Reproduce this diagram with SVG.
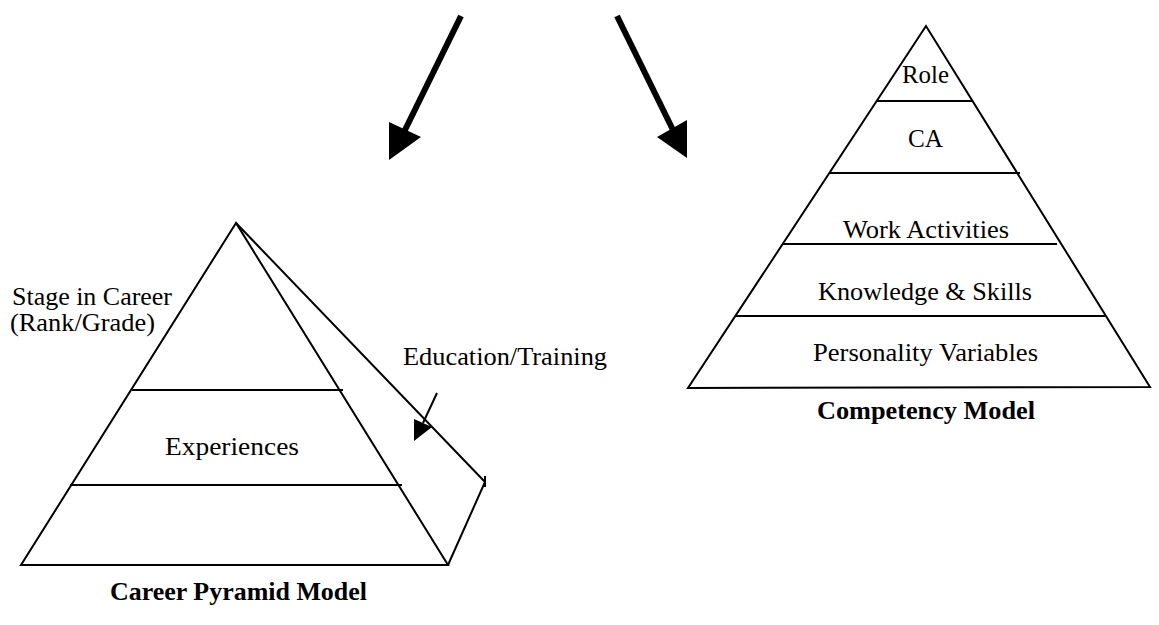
<svg xmlns="http://www.w3.org/2000/svg" width="1159" height="625" viewBox="0 0 1159 625">
<style>
.ln{stroke:#000;stroke-width:2;fill:none;stroke-linejoin:miter}
.sh{stroke:#000;stroke-width:6;fill:none}
.hd{fill:#000;stroke:none}
.t{font-family:'Liberation Serif',Tinos,'Times New Roman',Times,serif;font-size:25px;fill:#000}
.b{font-family:'Liberation Serif',Tinos,'Times New Roman',Times,serif;font-size:25px;font-weight:bold;fill:#000}
</style>
<rect width="1159" height="625" fill="#fff"/>
<g id="connectors">
<line class="sh" x1="461" y1="16" x2="404" y2="132"/>
<polygon class="hd" points="389,122 421,137 389,160"/>
<line class="sh" x1="617" y1="16" x2="673" y2="130"/>
<polygon class="hd" points="687,120 657,137 687,158"/>
<line class="ln" x1="437" y1="393" x2="423" y2="423"/>
<polygon class="hd" points="414,419 432,427 414,441"/>
</g>
<g id="career-pyramid">
<polygon class="ln" points="236,223 21,565 448,565"/>
<polyline class="ln" points="236,223 485,482 448,565"/>
<line class="ln" x1="485" y1="476" x2="485" y2="487"/>
<line class="ln" x1="132" y1="390" x2="343" y2="390"/>
<line class="ln" x1="70" y1="485" x2="402" y2="485"/>
<text class="t" x="165" y="455" textLength="134" lengthAdjust="spacingAndGlyphs">Experiences</text>
</g>
<g id="stage-label">
<text class="t" x="12" y="305" textLength="160" lengthAdjust="spacingAndGlyphs">Stage in Career</text>
<text class="t" x="10" y="331" textLength="145" lengthAdjust="spacingAndGlyphs">(Rank/Grade)</text>
</g>
<g id="education-label">
<text class="t" x="403" y="365" textLength="204" lengthAdjust="spacingAndGlyphs">Education/Training</text>
</g>
<g id="career-title">
<text class="b" x="110" y="600" textLength="257" lengthAdjust="spacingAndGlyphs">Career Pyramid Model</text>
</g>
<g id="competency-pyramid">
<polygon class="ln" points="926,26 688,388 1150,387"/>
<line class="ln" x1="877" y1="101" x2="972" y2="101"/>
<line class="ln" x1="829" y1="173" x2="1020" y2="173"/>
<line class="ln" x1="782" y1="244" x2="1057" y2="244"/>
<line class="ln" x1="735" y1="316" x2="1105" y2="316"/>
<text class="t" x="902" y="83" textLength="47" lengthAdjust="spacingAndGlyphs">Role</text>
<text class="t" x="908" y="147" textLength="35" lengthAdjust="spacingAndGlyphs">CA</text>
<text class="t" x="843" y="238" textLength="166" lengthAdjust="spacingAndGlyphs">Work Activities</text>
<text class="t" x="818" y="300" textLength="214" lengthAdjust="spacingAndGlyphs">Knowledge &amp; Skills</text>
<text class="t" x="813" y="361" textLength="225" lengthAdjust="spacingAndGlyphs">Personality Variables</text>
</g>
<g id="competency-title">
<text class="b" x="817" y="419" textLength="218" lengthAdjust="spacingAndGlyphs">Competency Model</text>
</g>
</svg>
